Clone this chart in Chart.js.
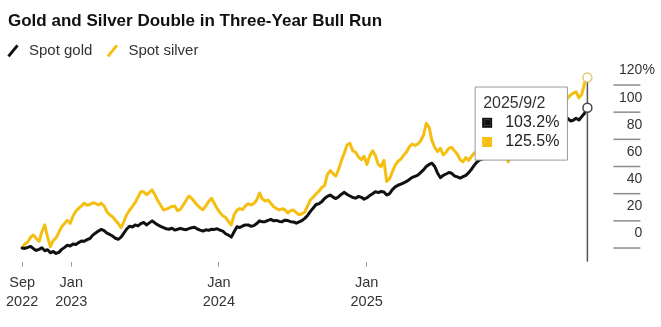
<!DOCTYPE html>
<html>
<head>
<meta charset="utf-8">
<script src="https://cdn.jsdelivr.net/npm/chart.js@4.4.1/dist/chart.umd.min.js"></script>
<style>
  html, body { margin: 0; padding: 0; background: #fff; }
  #wrap { position: relative; width: 661px; height: 327px; }
</style>
</head>
<body>
<div id="wrap"><canvas id="chart"></canvas></div>
<script>
// weeks since 1 Sep 2022
const weeks = [
  0, 1, 2, 3, 4, 5, 6, 7, 8, 9, 10, 11, 12, 13, 14, 15, 16, 17, 18, 19,
  20, 21, 22, 23, 24, 25, 26, 27, 28, 29, 30, 31, 32, 33, 34, 35, 36, 37, 38, 39,
  40, 41, 42, 43, 44, 45, 46, 47, 48, 49, 50, 51, 52, 53, 54, 55, 56, 57, 58, 59,
  60, 61, 62, 63, 64, 65, 66, 67, 68, 69, 70, 71, 72, 73, 74, 75, 76, 77, 78, 79,
  80, 81, 82, 83, 84, 85, 86, 87, 88, 89, 90, 91, 92, 93, 94, 95, 96, 97, 98, 99,
  100, 101, 102, 103, 104, 105, 106, 107, 108, 109, 110, 111, 112, 113, 114, 115, 116, 117, 118, 119,
  120, 121, 122, 123, 124, 125, 126, 127, 128, 129, 130, 131, 132, 133, 134, 135, 136, 137, 138, 139,
  140, 141, 142, 143, 144, 145, 146, 147, 148, 149, 150, 151, 152, 153, 154, 155, 156, 157, 158, 159,
  160, 161, 162, 163, 164, 165, 166, 167, 168, 169, 170, 171, 172, 173, 174, 175, 176, 177, 178, 179,
  180, 181, 182, 183, 184, 185, 186, 187, 188, 189, 190, 191, 192, 193, 194, 195, 196, 197, 198, 199,
  200
];

// % change since the start, spot gold
const gold = [
  0, -0.3, 0.5, 1.2, -0.5, -1.8, -1, 0.2, -2, -1.2,
  -3.5, -2.5, -4, -3.2, -1, 0.5, 2, 1.5, 3, 2.6,
  4, 5.2, 5, 6.2, 7, 9.5, 11, 12.5, 13.7, 12.8,
  11, 10, 8.8, 7.2, 6.4, 8, 11, 14, 16, 15.5,
  17, 16.3, 18, 18.8, 17, 18.5, 20, 18.4, 17, 16,
  15, 14.2, 13.8, 14.6, 13.2, 13.8, 14.5, 13.8, 13.5, 14.3,
  15, 15.3, 14, 13.2, 12.5, 13.4, 13, 13.8, 13.7, 14.2,
  13.2, 12.4, 10.5, 9.5, 8, 12, 15.7, 15.1, 16.2, 17,
  17, 16, 16.5, 18, 20, 19.3, 19.4, 20.4, 21.1, 20,
  20.3, 19.6, 19.4, 20.5, 20.2, 19.4, 19.2, 18.3, 19.2, 20.2,
  21.8, 24, 27, 29.5, 32, 32.6, 34, 36.5, 38, 39,
  37.5, 36.4, 37.8, 39.6, 41, 39.4, 38.3, 37.2, 36.7, 38,
  37.3, 36, 37, 38.6, 40, 41.5, 40.8, 41.6, 41.2, 39,
  40, 43, 45, 46.2, 47, 48, 49, 50.5, 52, 52.8,
  53.6, 55.5, 57.5, 60, 61.5, 62.4, 60, 55, 51.8, 53.5,
  54.5, 55.6, 55, 53, 52.4, 51.5, 52.5, 53.5, 55.5, 58,
  61, 63.5, 65, 65.6, 66, 67, 67.5, 66.4, 66, 67.2,
  68.5, 68, 67, 68.6, 70.5, 71, 72.5, 74.6, 76, 77,
  78, 79.5, 80.5, 82.5, 84, 83.5, 85, 87, 88.5, 89.7,
  91, 93.2, 94.5, 95.5, 93.5, 94, 95.5, 94.2, 96.7, 99.2,
  103.2
];

// % change since the start, spot silver
const silver = [
  0, 3, 4.5, 8, 9.6, 7, 5, 12, 17, 8,
  1, 5.5, 7.5, 11.5, 15.7, 18, 20.4, 18.2, 23.5, 27,
  29.2, 31, 33, 31.5, 32, 33.4, 32.8, 31.7, 32.9, 31,
  26.7, 24.5, 23, 20.5, 18, 15, 19.5, 24.5, 27.8, 30.5,
  33.5, 37.5, 41.5, 41.5, 39.2, 41, 42.8, 39, 35, 31.5,
  28, 28.6, 29.5, 30.6, 31, 27.5, 28.5, 31.7, 35, 38.3,
  36.5, 34, 31.5, 29.5, 28.2, 31, 34.3, 36.6, 33, 29,
  26, 23.8, 22.5, 19.5, 17, 24.5, 27.8, 29, 28.3, 31,
  32.6, 31.7, 32.8, 35.3, 40.5, 36, 34.6, 35.3, 33, 30.4,
  29, 28, 28.9, 28.2, 25.8, 27.5, 28, 26, 24.5, 25.2,
  26.5, 31, 35.5, 37.5, 39.8, 41.8, 44.5, 46, 54, 57,
  54.8, 53, 58, 64.5, 70, 76, 77, 71.5, 70.5, 67,
  65, 67.5, 61.5, 68, 71.5, 68, 61.5, 60, 64.5, 49,
  51, 56, 61, 63.8, 65.5, 68.3, 70.7, 74.5, 76.6, 75.5,
  76.5, 79, 83, 91.8, 89, 79, 74, 71, 73.4, 68.5,
  70.5, 73.5, 74, 71.5, 69, 65, 63.5, 66.5, 64.5, 67.5,
  70, 71, 72, 74, 76, 74.5, 73, 75.5, 78, 76.5,
  74, 68, 63.5, 69, 75, 79, 82, 84.5, 86, 85,
  84, 87.5, 90, 93, 95, 94, 93, 96.5, 99, 101.5,
  104, 106, 108, 110.2, 112.6, 114, 115, 110.5, 113, 121.3,
  125.5
];

const seriesNames = ['Spot gold', 'Spot silver'];
const seriesColors = ['#111111', '#f5bf12'];
const xTickWeeks = [0, 17.4, 69.6, 121.9];
const xTickLabels = [['Sep', '2022'], ['Jan', '2023'], ['Jan', '2024'], ['Jan', '2025']];
const yTicks = [0, 20, 40, 60, 80, 100, 120];
const tipDate = '2025/9/2';
const last = weeks.length - 1;

const SANS = '"Liberation Sans", Arial, Helvetica, sans-serif';

// tooltip box hangs at a fixed spot in the upper right of the plot
Chart.Tooltip.positioners.pinned = function () {
  const a = this.chart.chartArea;
  return { x: a.right - 20, y: a.top + 15.6 };
};

// vertical rule at the latest reading, under the lines
const crosshair = {
  id: 'crosshair',
  beforeDatasetsDraw(chart) {
    const pt = chart.getDatasetMeta(1).data[last];
    const { ctx, chartArea } = chart;
    ctx.save();
    ctx.strokeStyle = '#555';
    ctx.lineWidth = 1.5;
    ctx.beginPath();
    ctx.moveTo(pt.x, pt.y);
    ctx.lineTo(pt.x, chartArea.bottom);
    ctx.stroke();
    ctx.restore();
  }
};

// right scale: short rules, value printed just above each one
const rightAxis = {
  id: 'rightAxis',
  afterDraw(chart) {
    const { ctx, chartArea } = chart;
    const y = chart.scales.y;
    const x0 = chartArea.right;
    ctx.save();
    ctx.strokeStyle = '#8c8c8c';
    ctx.lineWidth = 1.5;
    ctx.fillStyle = '#333';
    ctx.font = '14px ' + SANS;
    ctx.textBaseline = 'middle';
    yTicks.forEach((v, i) => {
      const py = y.getPixelForValue(v);
      ctx.beginPath();
      ctx.moveTo(x0 + 26, py);
      ctx.lineTo(x0 + 53, py);
      ctx.stroke();
      ctx.textAlign = 'right';
      ctx.fillText(String(v), x0 + 55, py - 14.5);
      if (i === yTicks.length - 1) {
        ctx.textAlign = 'left';
        ctx.fillText('%', x0 + 55, py - 14.5);
      }
    });
    ctx.restore();
  }
};

// legend row: slanted stroke in the series colour, then the name
const slashLegend = {
  id: 'slashLegend',
  afterDraw(chart) {
    const { ctx, chartArea } = chart;
    const cy = chartArea.top - 21;
    let x = chart.options.layout.padding.left;
    ctx.save();
    ctx.font = '15px ' + SANS;
    ctx.textBaseline = 'middle';
    ctx.textAlign = 'left';
    chart.data.datasets.forEach(ds => {
      ctx.strokeStyle = ds.borderColor;
      ctx.lineWidth = 3;
      ctx.beginPath();
      ctx.moveTo(x + 0.5, cy + 6);
      ctx.lineTo(x + 9.5, cy - 5);
      ctx.stroke();
      ctx.fillStyle = '#333';
      ctx.fillText(ds.label, x + 21, cy);
      x += 21 + ctx.measureText(ds.label).width + 15;
    });
    ctx.restore();
  }
};

const endPoint = c => (c.index === last ? 4.5 : 0);

const chart = new Chart(document.getElementById('chart'), {
  type: 'line',
  data: {
    labels: weeks,
    datasets: [
      {
        label: seriesNames[0],
        data: gold,
        borderColor: seriesColors[0],
        borderWidth: 3,
        pointRadius: endPoint,
        pointBackgroundColor: '#fff',
        pointBorderColor: '#444',
        pointBorderWidth: 1.5,
        clip: false,
      },
      {
        label: seriesNames[1],
        data: silver,
        borderColor: seriesColors[1],
        borderWidth: 3,
        pointRadius: endPoint,
        pointBackgroundColor: '#fff',
        pointBorderColor: '#e6c777',
        pointBorderWidth: 1.5,
        clip: false,
      },
    ],
  },
  options: {
    responsive: true,
    maintainAspectRatio: false,
    animation: false,
    events: [],
    layout: { padding: { left: 8, right: 0, top: 0, bottom: 8.6 } },
    elements: { line: { tension: 0, borderJoinStyle: 'round', borderCapStyle: 'round' } },
    scales: {
      x: {
        type: 'linear',
        min: -5,
        max: 200,
        border: { display: false },
        grid: { drawOnChartArea: false, tickLength: 5, color: '#999' },
        afterBuildTicks: s => { s.ticks = xTickWeeks.map(v => ({ value: v })); },
        // first label may hang past the plot edge
        afterFit: s => { s.paddingLeft = 0; s.paddingRight = 0; },
        ticks: {
          padding: 6.9,
          maxRotation: 0,
          autoSkip: false,
          color: '#333',
          font: { family: SANS, size: 14.5, lineHeight: 1.31 },
          callback: (v, i) => xTickLabels[i],
        },
      },
      y: {
        position: 'right',
        min: -10,
        max: 130,
        border: { display: false },
        grid: { display: false },
        ticks: { display: false },
        afterFit: s => { s.width = 73.6; },
      },
    },
    plugins: {
      legend: { display: false },
      title: {
        display: true,
        text: 'Gold and Silver Double in Three-Year Bull Run',
        align: 'start',
        color: '#111',
        font: { family: SANS, size: 17, weight: 'bold', lineHeight: 1.2 },
        padding: { top: 11, bottom: 40 },
      },
      tooltip: {
        enabled: true,
        position: 'pinned',
        xAlign: 'right',
        yAlign: 'top',
        caretSize: 0,
        caretPadding: 0,
        cornerRadius: 0,
        backgroundColor: '#fff',
        borderColor: '#9a9a9a',
        borderWidth: 1,
        titleColor: '#333',
        bodyColor: '#222',
        titleFont: { family: SANS, size: 16, weight: 'normal', lineHeight: 1.2 },
        bodyFont: { family: SANS, size: 16, lineHeight: 1.2 },
        titleMarginBottom: 0,
        bodySpacing: 0,
        padding: { top: 7, bottom: 8.5, left: 8, right: 8 },
        boxWidth: 8,
        boxHeight: 8,
        boxPadding: 12,
        multiKeyBackground: '#fff',
        callbacks: {
          title: () => tipDate,
          label: c => c.parsed.y.toFixed(1) + '%',
          labelColor: c => ({
            borderColor: seriesColors[c.datasetIndex],
            backgroundColor: seriesColors[c.datasetIndex],
            borderWidth: 2,
          }),
        },
      },
    },
  },
  plugins: [crosshair, rightAxis, slashLegend],
});

chart.tooltip.setActiveElements(
  [{ datasetIndex: 0, index: last }, { datasetIndex: 1, index: last }],
  { x: 0, y: 0 }
);
chart.update();
</script>
</body>
</html>
